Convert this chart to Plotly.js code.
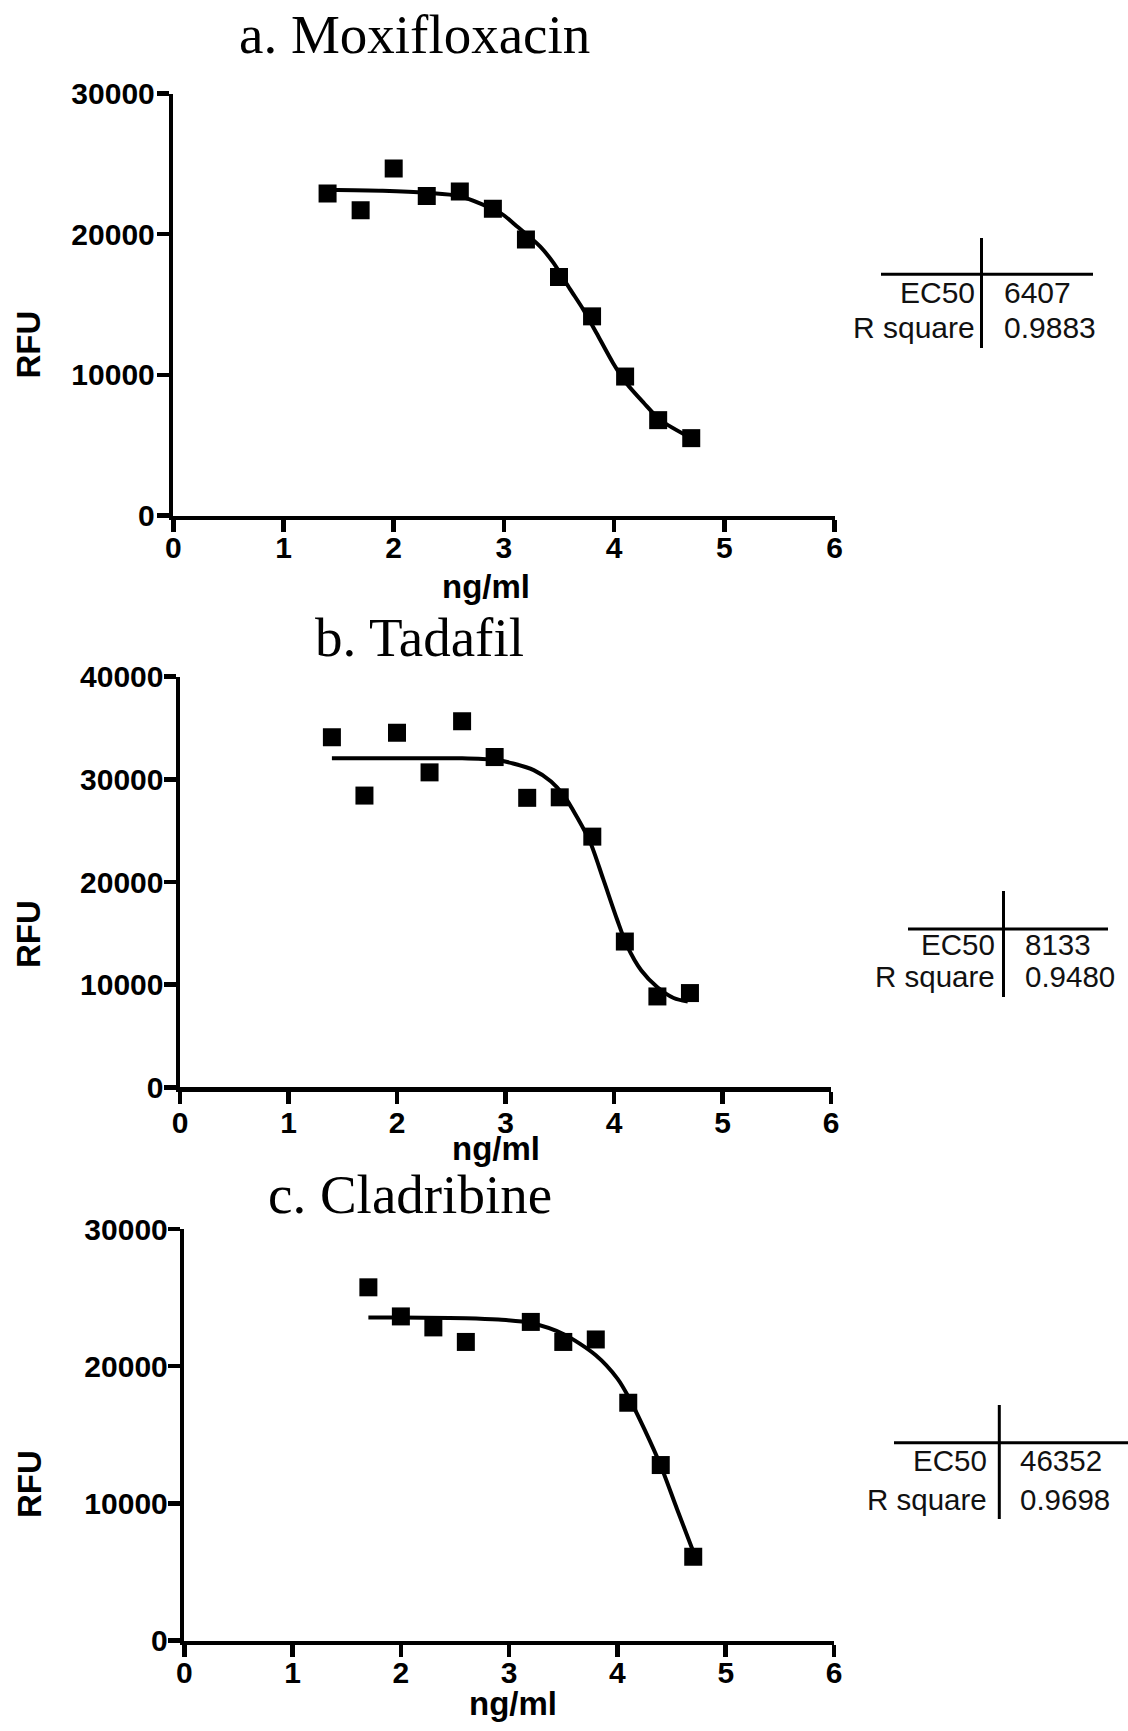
<!DOCTYPE html>
<html>
<head>
<meta charset="utf-8">
<script src="https://cdn.plot.ly/plotly-3.0.1.min.js"></script>
<style>html,body{margin:0;padding:0;background:#fff;}#chart{width:1128px;height:1731px;}</style>
</head>
<body>
<div id="chart"></div>
<script>
// ---------- data ----------
// log concentration (x, "ng/ml") for the 2-fold dilution series
const xA = [1.4, 1.7, 2.0, 2.3, 2.6, 2.9, 3.2, 3.5, 3.8, 4.1, 4.4, 4.7];
const yA = [22900, 21700, 24680, 22720, 23040, 21820, 19630, 16960, 14160, 9880, 6780, 5500];
const fitXA = [1.4, 1.9, 2.3, 2.6, 2.97, 3.12, 3.33, 3.45, 3.6, 3.72, 3.84, 3.99, 4.11, 4.27, 4.42, 4.7];
const fitYA = [23170, 23100, 22950, 22700, 21500, 20550, 19120, 17960, 16100, 14650, 12980, 10850, 9420, 8000, 6790, 5500];

const xB = [1.4, 1.7, 2.0, 2.3, 2.6, 2.9, 3.2, 3.5, 3.8, 4.1, 4.4, 4.7];
const yB = [34090, 28420, 34540, 30680, 35650, 32170, 28200, 28250, 24420, 14200, 8850, 9180];
const fitXB = [1.4, 2.0, 2.6, 2.9, 3.07, 3.26, 3.42, 3.54, 3.66, 3.78, 3.90, 4.03, 4.12, 4.25, 4.40, 4.55, 4.68];
const fitYB = [32050, 32050, 32050, 31900, 31550, 30900, 29800, 28400, 26300, 23900, 20300, 16300, 13800, 11400, 9750, 8700, 8350];

const xC = [1.7, 2.0, 2.3, 2.6, 3.2, 3.5, 3.8, 4.1, 4.4, 4.7];
const yC = [25750, 23630, 22830, 21770, 23230, 21770, 21950, 17340, 12800, 6110];
const fitXC = [1.7, 2.0, 2.6, 2.9, 3.2, 3.5, 3.8, 4.0, 4.1, 4.25, 4.4, 4.55, 4.7];
const fitYC = [23550, 23550, 23500, 23400, 23150, 22350, 20800, 19100, 17800, 15400, 12750, 9600, 6500];

const panelTitles = ["a. Moxifloxacin", "b. Tadafil", "c. Cladribine"];
const statLabels = ["EC50", "R square"];
const ec50Values = ["6407", "8133", "46352"];
const rsqValues = ["0.9883", "0.9480", "0.9698"];
const xTickVals = [0, 1, 2, 3, 4, 5, 6];
const yRanges = [[0, 30000], [0, 40000], [0, 30000]];
const xAxisTitle = "ng/ml";
const yAxisTitle = "RFU";

// ---------- layout helpers ----------
const W = 1128, H = 1731;
const px = x => x / W;
const py = y => 1 - y / H;

const tickFont = {family: "Liberation Sans, Arial, sans-serif", size: 30, color: "black", weight: "bold"};

function xaxis(dom, anchor, standoff) {
  return {domain: dom, anchor: anchor, range: [0, 6], tickvals: xTickVals, ticktext: xTickVals.map(String),
    showline: true, linewidth: 4.5, linecolor: "black", ticks: "outside", ticklen: 12, tickwidth: 4.5,
    tickcolor: "black", showgrid: false, zeroline: false, tickfont: tickFont, ticklabelstandoff: standoff, fixedrange: true};
}
function yaxis(dom, anchor, rng, standoff) {
  return {domain: dom, anchor: anchor, range: rng, dtick: 10000, tick0: 0, tickformat: "d",
    showline: true, linewidth: 4.5, linecolor: "black", ticks: "outside", ticklen: 12, tickwidth: 4.5,
    tickcolor: "black", showgrid: false, zeroline: false, tickfont: tickFont, ticklabelstandoff: standoff, fixedrange: true};
}

const marker = {symbol: "square", size: 18, color: "black"};
const fitLine = {color: "black", width: 4, shape: "spline", smoothing: 0.8};

const traces = [
  {x: fitXA, y: fitYA, xaxis: "x", yaxis: "y", mode: "lines", line: fitLine, hoverinfo: "skip"},
  {x: xA, y: yA, xaxis: "x", yaxis: "y", mode: "markers", marker: marker},
  {x: fitXB, y: fitYB, xaxis: "x2", yaxis: "y2", mode: "lines", line: fitLine, hoverinfo: "skip"},
  {x: xB, y: yB, xaxis: "x2", yaxis: "y2", mode: "markers", marker: marker},
  {x: fitXC, y: fitYC, xaxis: "x3", yaxis: "y3", mode: "lines", line: fitLine, hoverinfo: "skip"},
  {x: xC, y: yC, xaxis: "x3", yaxis: "y3", mode: "markers", marker: marker}
];

// panel geometry (pixels)
const panels = [
  {x0: 173.3, x1: 834.5, yb: 515.5, yt: 93.6, title: [414, 34], rfu: [27.5, 345], ngml: [486, 586],
   xso: -10, yso: -4,
   vline: [981.5, 238, 348], hline: [881, 1093, 274.3], labX: 977, valX: 1002, rows: [292.5, 327.5], fs: 30},
  {x0: 180.0, x1: 831.0, yb: 1087.3, yt: 676.7, title: [419, 638], rfu: [29, 934], ngml: [496, 1148],
   xso: -7, yso: -6,
   vline: [1003.5, 891, 997], hline: [908, 1108, 929], labX: 997, valX: 1023, rows: [945, 976], fs: 29.5},
  {x0: 184.3, x1: 834.0, yb: 1640.7, yt: 1229.0, title: [410, 1194], rfu: [29, 1484], ngml: [513, 1703],
   xso: -10, yso: -6,
   vline: [999.3, 1405, 1519], hline: [894, 1128, 1442.7], labX: 989, valX: 1018, rows: [1460.5, 1499], fs: 29.5}
];

const layout = {
  width: W, height: H, margin: {l: 0, r: 0, t: 0, b: 0},
  paper_bgcolor: "white", plot_bgcolor: "white", showlegend: false,
  annotations: [], shapes: []
};

panels.forEach((p, i) => {
  const sfx = i === 0 ? "" : String(i + 1);
  layout["xaxis" + sfx] = xaxis([px(p.x0), px(p.x1)], "y" + sfx, p.xso);
  layout["yaxis" + sfx] = yaxis([py(p.yb), py(p.yt)], "x" + sfx, yRanges[i], p.yso);

  layout.annotations.push({text: panelTitles[i], xref: "paper", yref: "paper", x: px(p.title[0]), y: py(p.title[1]),
    xanchor: "center", yanchor: "middle", showarrow: false,
    font: {family: "Liberation Serif, Times New Roman, serif", size: 55, color: "black"}});
  layout.annotations.push({text: yAxisTitle, xref: "paper", yref: "paper", x: px(p.rfu[0]), y: py(p.rfu[1]),
    xanchor: "center", yanchor: "middle", textangle: -90, showarrow: false,
    font: {family: "Liberation Sans, Arial, sans-serif", size: 33, color: "black", weight: "bold"}});
  layout.annotations.push({text: xAxisTitle, xref: "paper", yref: "paper", x: px(p.ngml[0]), y: py(p.ngml[1]),
    xanchor: "center", yanchor: "middle", showarrow: false,
    font: {family: "Liberation Sans, Arial, sans-serif", size: 33, color: "black", weight: "bold"}});

  const tf = {family: "Liberation Sans, Arial, sans-serif", size: p.fs, color: "#111"};
  const vals = [ec50Values[i], rsqValues[i]];
  statLabels.forEach((lab, r) => {
    layout.annotations.push({text: lab, xref: "paper", yref: "paper", x: px(p.labX), y: py(p.rows[r]),
      xanchor: "right", yanchor: "middle", showarrow: false, font: tf});
    layout.annotations.push({text: vals[r], xref: "paper", yref: "paper", x: px(p.valX), y: py(p.rows[r]),
      xanchor: "left", yanchor: "middle", showarrow: false, font: tf});
  });
  layout.shapes.push({type: "line", xref: "paper", yref: "paper",
    x0: px(p.vline[0]), x1: px(p.vline[0]), y0: py(p.vline[1]), y1: py(p.vline[2]), line: {color: "black", width: 3}});
  layout.shapes.push({type: "line", xref: "paper", yref: "paper",
    x0: px(p.hline[0]), x1: px(p.hline[1]), y0: py(p.hline[2]), y1: py(p.hline[2]), line: {color: "black", width: 3}});
});

Plotly.newPlot("chart", traces, layout, {staticPlot: true, displayModeBar: false});
</script>
</body>
</html>
